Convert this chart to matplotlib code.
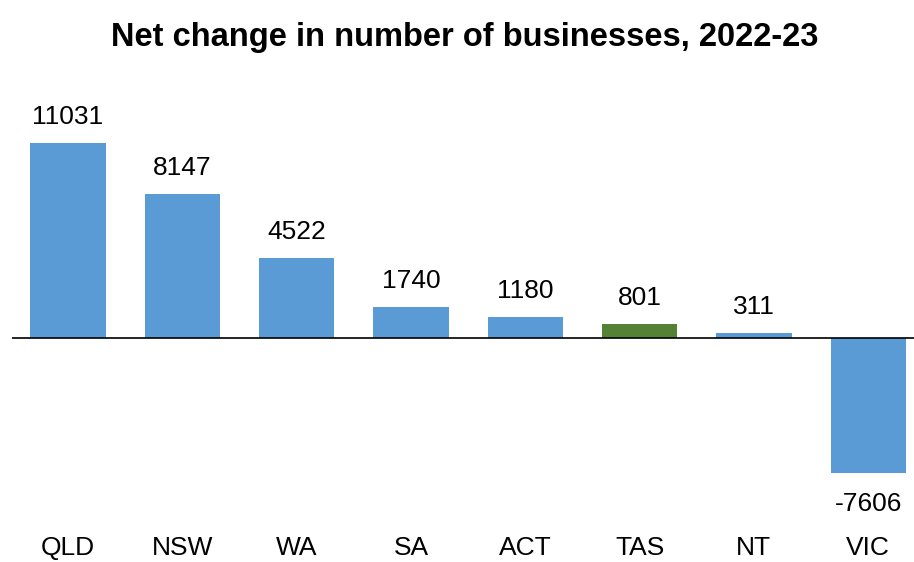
import matplotlib
matplotlib.use('Agg')
from matplotlib import pyplot as plt

states = ['QLD', 'NSW', 'WA', 'SA', 'ACT', 'TAS', 'NT', 'VIC']
net_change = [11031, 8147, 4522, 1740, 1180, 801, 311, -7606]
bar_colors = ['#5B9BD5'] * 5 + ['#548235'] + ['#5B9BD5'] * 2

plt.rcParams['font.family'] = ['Liberation Sans', 'DejaVu Sans']

fig = plt.figure(figsize=(9.14, 5.62), dpi=100)
ax = fig.add_axes([0.013, 0.048, 0.987, 0.760])

x = range(len(states))
bars = ax.bar(x, net_change, width=0.66, color=bar_colors, zorder=2)
ax.axhline(0, color='black', linewidth=1.2, zorder=3)

for xi, v in zip(x, net_change):
    if v >= 0:
        ax.annotate(str(v), (xi, v), xytext=(0, 10), textcoords='offset points',
                    ha='center', va='bottom', fontsize=19)
    else:
        ax.annotate(str(v), (xi, v), xytext=(0, -14), textcoords='offset points',
                    ha='center', va='top', fontsize=19)

ax.set_xlim(-0.49, 7.4)
ax.set_ylim(-11130, 13000)
ax.set_xticks(list(x))
ax.set_xticklabels(states, fontsize=19)
ax.tick_params(axis='x', length=0, pad=1)
ax.set_yticks([])
for s in ax.spines.values():
    s.set_visible(False)

fig.suptitle('Net change in number of businesses, 2022-23', fontsize=23.5,
             fontweight='bold', x=0.508, y=0.96)

fig.savefig('out.png', dpi=100)
